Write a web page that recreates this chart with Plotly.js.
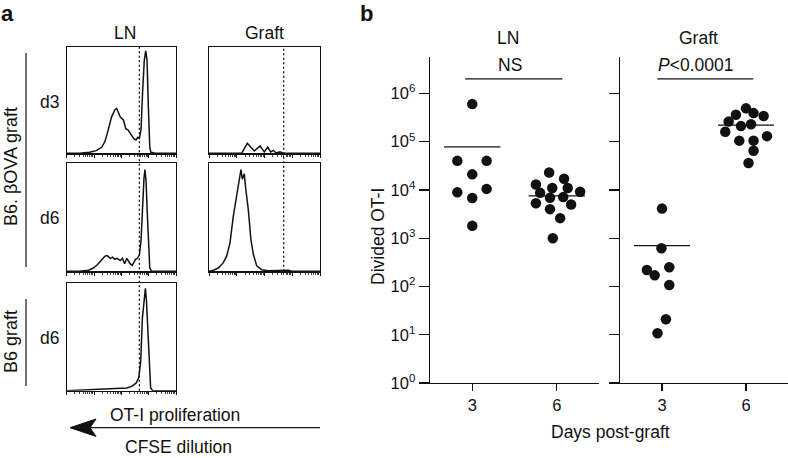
<!DOCTYPE html>
<html><head><meta charset="utf-8">
<script src="https://cdn.plot.ly/plotly-3.0.1.min.js"></script>
<style>html,body{margin:0;padding:0;background:#fff}#chart{width:788px;height:458px}</style>
</head><body><div id="chart"></div>
<script>
// ---------- Panel a: CFSE histograms (x: CFSE channel 0-100, y: % of max) ----------
const lnD3HistX = [0,12,21,24.4,27,32,35,38,41,44,45.7,47,49,52,54,56,59,61.6,63.4,65,66.5,68,69.5,71,72.3,73.5,74.7,76,77,81,100];
const lnD3HistY = [0,0,1,1.6,2.5,5.6,11,22,34,40.6,42,39,34,31,23,22,17,13.4,12.5,15,14,22,59,87.5,96,87.5,44,6,1,0,0];
const graftD3HistX = [0,29.4,34.5,40.8,46,49.8,52.9,55.6,58,60.4,64,66.4,70,100];
const graftD3HistY = [0,0,9.4,2.2,6.9,1.3,5.9,1.3,2.8,0.3,1.3,0.3,0,0];
const lnD6HistX = [0,12,20,24.4,28,32,35,37,40,42,44,46,49,51,53,55,58,60,63,64.6,66.5,68,69.5,70.7,71.6,72.6,73.8,75,76,77.7,100];
const lnD6HistY = [0,0,1,3,6,11,14,14.5,12,13,11,12,10,12,7,12,7,5.5,11,12,15,28,68,86,94,83,52,18,3,0,0];
const graftD6HistX = [0,3.9,8.4,12.9,15.9,18.9,21.9,24.9,26.4,27.9,28.8,30,31.8,33,35.4,37.8,40,43,47.4,53.5,68.5,71.5,74.5,100];
const graftD6HistY = [0,1,3,8,14,26,51,70,79,87,94,85,90,77,57,29,15.5,5,1.5,0.6,0.6,1,0,0];
const b6D6HistX = [0,18,33.5,55,59.5,63.4,65.9,67.7,69.2,70.7,72,73,74.4,75.6,76.8,78.7,100];
const b6D6HistY = [0,0.6,1.5,2.5,4,7,12,27,67,86,95,83,49,15,2.5,0,0];
const lnGate = 66.5;     // dotted division gate, LN column
const graftGate = 67.3;  // dotted division gate, Graft column

// ---------- Panel b: divided OT-I counts ----------
const dayTicks = [3, 6];
const lnDay3X = [3.0, 2.47, 3.51, 3.0, 2.47, 3.51, 3.0, 3.0];
const lnDay3Y = [6.0e5, 4.0e4, 4.0e4, 2.1e4, 8.9e3, 1.05e4, 6.8e3, 1.8e3];
const lnDay6X = [5.73, 5.26, 6.26, 5.84, 6.39, 6.83, 5.41, 5.76, 6.23, 5.26, 6.51, 5.76, 6.12, 5.86];
const lnDay6Y = [2.3e4, 1.3e4, 1.7e4, 1.1e4, 1.1e4, 9.2e3, 8.7e3, 6.9e3, 7.1e3, 5.3e3, 5.0e3, 4.0e3, 2.6e3, 1.0e3];
const graftDay3X = [3.0, 2.98, 2.46, 2.74, 3.26, 3.26, 3.14, 2.84];
const graftDay3Y = [4.1e3, 620, 220, 170, 250, 107, 21, 10.7];
const graftDay6X = [6.0, 5.64, 6.27, 6.63, 5.38, 5.82, 6.18, 5.26, 6.75, 5.76, 6.27, 6.27, 6.09];
const graftDay6Y = [4.9e5, 3.6e5, 3.9e5, 3.4e5, 2.6e5, 2.1e5, 2.3e5, 1.6e5, 1.3e5, 1.05e5, 1.05e5, 6.5e4, 3.6e4];
const lnMeans = [7.8e4, 7.5e3];
const graftMeans = [700, 2.2e5];
const lnSigBar = {x: [2.75, 6.2], y: 2.0e6, label: 'NS'};
const graftSigBar = {x: [2.83, 6.26], y: 2.0e6, label: '<i>P</i>&lt;0.0001'};
const yTickVals = [1, 10, 100, 1e3, 1e4, 1e5, 1e6];
const yTickText = ['10<sup>0</sup>','10<sup>1</sup>','10<sup>2</sup>','10<sup>3</sup>','10<sup>4</sup>','10<sup>5</sup>','10<sup>6</sup>'];

// ---------- helpers ----------
const W = 788, H = 458;
const fx = p => p / W;
const fy = p => 1 - p / H;
const FONT = 'Liberation Sans, Arial, Helvetica, sans-serif';
const BLACK = '#111';

const traces = [];
function hist(x, y, n) {
  traces.push({x: x, y: y, xaxis: 'x' + n, yaxis: 'y' + n, mode: 'lines',
    line: {color: BLACK, width: 1.5}, hoverinfo: 'skip'});
}
hist(lnD3HistX, lnD3HistY, 1);
hist(graftD3HistX, graftD3HistY, 2);
hist(lnD6HistX, lnD6HistY, 3);
hist(graftD6HistX, graftD6HistY, 4);
hist(b6D6HistX, b6D6HistY, 5);

function dots(x, y, n) {
  traces.push({x: x, y: y, xaxis: 'x' + n, yaxis: 'y' + n, mode: 'markers',
    marker: {color: BLACK, size: 10.5}, hoverinfo: 'x+y'});
}
function meanLine(day, m, n) {
  traces.push({x: [day - 1, day + 1], y: [m, m], xaxis: 'x' + n, yaxis: 'y' + n, mode: 'lines',
    line: {color: BLACK, width: 1.3}, hoverinfo: 'skip'});
}
function sigBar(b, n) {
  traces.push({x: b.x, y: [b.y, b.y], xaxis: 'x' + n, yaxis: 'y' + n, mode: 'lines',
    line: {color: BLACK, width: 1.3}, hoverinfo: 'skip'});
}
dots(lnDay3X, lnDay3Y, 6); dots(lnDay6X, lnDay6Y, 6);
dots(graftDay3X, graftDay3Y, 7); dots(graftDay6X, graftDay6Y, 7);
meanLine(dayTicks[0], lnMeans[0], 6); meanLine(dayTicks[1], lnMeans[1], 6);
meanLine(dayTicks[0], graftMeans[0], 7); meanLine(dayTicks[1], graftMeans[1], 7);
sigBar(lnSigBar, 6); sigBar(graftSigBar, 7);

// log-like tick marks of the flow cytometry axis
const majorT = [0, 25, 50, 75, 100];
const minorT = [];
for (let d = 0; d < 4; d++) for (let k = 2; k <= 9; k++) minorT.push(25 * d + 25 * Math.log10(k));

function histX(domain, anchor) {
  return {domain: domain, anchor: anchor, range: [0, 100], showline: true, mirror: true,
    linecolor: BLACK, linewidth: 1.2, showgrid: false, zeroline: false, showticklabels: false,
    ticks: 'outside', ticklen: 3, tickwidth: 1, tickcolor: BLACK, tickmode: 'array', tickvals: majorT,
    minor: {ticks: 'outside', ticklen: 2, tickwidth: 0.8, tickcolor: BLACK, tickmode: 'array', tickvals: minorT, showgrid: false},
    fixedrange: true};
}
function histY(domain, anchor) {
  return {domain: domain, anchor: anchor, range: [0, 100], showline: true, mirror: true,
    linecolor: BLACK, linewidth: 1.2, showgrid: false, zeroline: false, showticklabels: false,
    ticks: '', fixedrange: true};
}
const colLN = [fx(66.7), fx(176)];
const colGr = [fx(209), fx(320)];
const row1 = [fy(153.3), fy(46.7)];
const row2 = [fy(271.3), fy(163)];
const row3 = [fy(390.7), fy(283)];

function dotX(domain, anchor) {
  return {domain: domain, anchor: anchor, range: [1.5, 7.5], showline: true, linecolor: BLACK,
    linewidth: 1.3, showgrid: false, zeroline: false, ticks: 'outside', ticklen: 7, tickwidth: 1.3,
    tickcolor: BLACK, tickmode: 'array', tickvals: dayTicks, ticktext: dayTicks.map(String),
    tickfont: {size: 16.5, family: FONT, color: BLACK}, fixedrange: true};
}
function dotY(domain, anchor, labels) {
  return {domain: domain, anchor: anchor, type: 'log', range: [0, 6.76], showline: true,
    linecolor: BLACK, linewidth: 1.3, showgrid: false, zeroline: false, ticks: 'outside',
    ticklen: 10, tickwidth: 1.3, tickcolor: BLACK, tickmode: 'array', tickvals: yTickVals,
    ticktext: yTickText, showticklabels: labels, tickfont: {size: 16.5, family: FONT, color: BLACK},
    fixedrange: true};
}
const dotRows = [fy(383), fy(56.7)];

function ann(text, x, y, size, extra) {
  return Object.assign({text: text, x: fx(x), y: fy(y), xref: 'paper', yref: 'paper',
    showarrow: false, xanchor: 'center', yanchor: 'middle',
    font: {size: size, family: FONT, color: BLACK}}, extra || {});
}
const annotations = [
  ann('<b>a</b>', 8, 14, 22),
  ann('<b>b</b>', 366, 14, 22),
  ann('LN', 125, 33, 17.5),
  ann('Graft', 264, 33, 17.5),
  ann('d3', 49, 102, 17.5),
  ann('d6', 49, 218, 17.5),
  ann('d6', 49, 338, 17.5),
  ann('B6. βOVA graft', 11, 167, 18, {textangle: -90}),
  ann('B6 graft', 11, 342, 18, {textangle: -90}),
  ann('OT-I proliferation', 175, 415, 17.5),
  ann('CFSE dilution', 178, 447, 17.5),
  ann('LN', 508, 38, 17.5),
  ann('Graft', 698, 38, 17.5),
  ann(lnSigBar.label, 510, 65, 17.5),
  ann(graftSigBar.label, 695, 65, 17.5),
  ann('Divided OT-I', 378, 237, 17.5, {textangle: -90}),
  ann('Days post-graft', 610, 432, 17.5)
];

const arrowPath = 'M' + fx(70) + ',' + fy(427.7) + ' L' + fx(96) + ',' + fy(419) +
  ' L' + fx(90) + ',' + fy(427.7) + ' L' + fx(96) + ',' + fy(436.4) + ' Z';
const shapes = [
  {type: 'line', xref: 'paper', yref: 'paper', x0: fx(26), x1: fx(26), y0: fy(53), y1: fy(267), line: {color: BLACK, width: 1.2}},
  {type: 'line', xref: 'paper', yref: 'paper', x0: fx(26), x1: fx(26), y0: fy(299), y1: fy(386), line: {color: BLACK, width: 1.2}},
  {type: 'line', xref: 'x', yref: 'paper', x0: lnGate, x1: lnGate, y0: fy(390.7), y1: fy(46.7), line: {color: BLACK, width: 1.3, dash: '2px,2.5px'}},
  {type: 'line', xref: 'x2', yref: 'paper', x0: graftGate, x1: graftGate, y0: fy(271.3), y1: fy(46.7), line: {color: BLACK, width: 1.3, dash: '2px,2.5px'}},
  {type: 'line', xref: 'paper', yref: 'paper', x0: fx(90), x1: fx(320), y0: fy(427.7), y1: fy(427.7), line: {color: BLACK, width: 1.3}},
  {type: 'path', xref: 'paper', yref: 'paper', path: arrowPath, fillcolor: BLACK, line: {color: BLACK, width: 1}}
];

const layout = {
  width: W, height: H, margin: {l: 0, r: 0, t: 0, b: 0, pad: 0},
  paper_bgcolor: '#fff', plot_bgcolor: 'rgba(0,0,0,0)', showlegend: false,
  font: {family: FONT, size: 16, color: BLACK},
  xaxis: histX(colLN, 'y'), yaxis: histY(row1, 'x'),
  xaxis2: histX(colGr, 'y2'), yaxis2: histY(row1, 'x2'),
  xaxis3: histX(colLN, 'y3'), yaxis3: histY(row2, 'x3'),
  xaxis4: histX(colGr, 'y4'), yaxis4: histY(row2, 'x4'),
  xaxis5: histX(colLN, 'y5'), yaxis5: histY(row3, 'x5'),
  xaxis6: dotX([fx(430), fx(599)], 'y6'), yaxis6: dotY(dotRows, 'x6', true),
  xaxis7: dotX([fx(620), 1], 'y7'), yaxis7: dotY(dotRows, 'x7', false),
  annotations: annotations, shapes: shapes
};
Plotly.newPlot('chart', traces, layout, {displayModeBar: false, staticPlot: true});
</script></body></html>
